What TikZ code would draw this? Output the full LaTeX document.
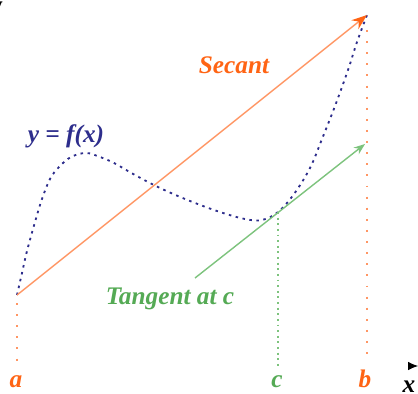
\documentclass[tikz,border=0pt]{standalone}
\usepackage{fontspec}
\setmainfont{Liberation Serif}
\usetikzlibrary{arrows.meta}
\definecolor{curveblue}{RGB}{45,45,140}
\definecolor{secline}{RGB}{255,150,100}
\definecolor{seclabel}{RGB}{255,100,20}
\definecolor{tanline}{RGB}{125,195,125}
\definecolor{tanlabel}{RGB}{85,170,85}
\begin{document}
\begin{tikzpicture}[
      x=0.025cm, y=-0.025cm,
      font=\fontsize{18}{20}\selectfont\bfseries\itshape,
      lbl/.style={anchor=base, inner sep=0pt},
      curvedots/.style={curveblue, line width=1.3pt, dash pattern=on 1.8pt off 3.2pt},
      sparsedots/.style={secline, line width=1pt, dash pattern=on 1.4pt off 6.5pt},
      densedots/.style={tanline, line width=1.1pt, dash pattern=on 1.4pt off 2.6pt}
    ]
    \useasboundingbox (0,0) rectangle (418,393);

    % points on the curve
    \coordinate (A) at (17,295);
    \coordinate (B) at (367,15);
    \coordinate (C) at (278,212);
    \coordinate (tanlow) at (195,278);
    \coordinate (tanhigh) at (365,144);

    % y = f(x)
    \draw[curvedots] plot[smooth, tension=0.6] coordinates {
      (17,295) (22,273) (27,251) (35,222) (42,199) (50,179) (59,167)
      (71,157) (86,153) (100,157) (114,163) (135,175) (160,188)
      (190,201) (220,212) (245,219) (262,220) (278,212) (294,194)
      (310,168) (322,139) (335,106) (348,70) (357,42) (367,15)};

    % secant and tangent
    \draw[secline, line width=1pt, -{Stealth[length=11pt, width=8pt, seclabel]}]
      (A) -- (B);
    \draw[tanline, line width=1pt, -{Stealth[length=8pt, width=6pt]}]
      (tanlow) -- (tanhigh);

    % drop lines
    \coordinate (afoot) at (17,362);
    \coordinate (cfoot) at (278,366);
    \coordinate (bfoot) at (367,362);
    \draw[sparsedots] (17,303) -- (afoot);
    \draw[densedots] (C) -- (cfoot);
    \draw[sparsedots] (367,30) -- (bfoot);

    % labels
    \node[lbl, text=seclabel] (seclbl) at (234,74) {Secant};
    \node[lbl, text=curveblue] (flbl) at (66,142) {y = f(x)};
    \node[lbl, text=tanlabel] (tanlbl) at (170,304) {Tangent at c};
    \node[lbl, text=seclabel] (albl) at (16,387) {a};
    \node[lbl, text=tanlabel] (clbl) at (277,387) {c};
    \node[lbl, text=seclabel] (blbl) at (365,387) {b};

    % axis ends
    \coordinate (xtail) at (408,366);
    \coordinate (xhead) at (418,366);
    \draw[line width=0.6pt, -{Latex[length=7pt, width=6pt]}] (xtail) -- (xhead);
    \node[lbl] (xlbl) at (409,392) {x};
    \node[anchor=base east, inner sep=0pt, font=\fontsize{18}{20}\selectfont\bfseries] (ylbl) at (3,14) {y};
  \end{tikzpicture}
\end{document}
